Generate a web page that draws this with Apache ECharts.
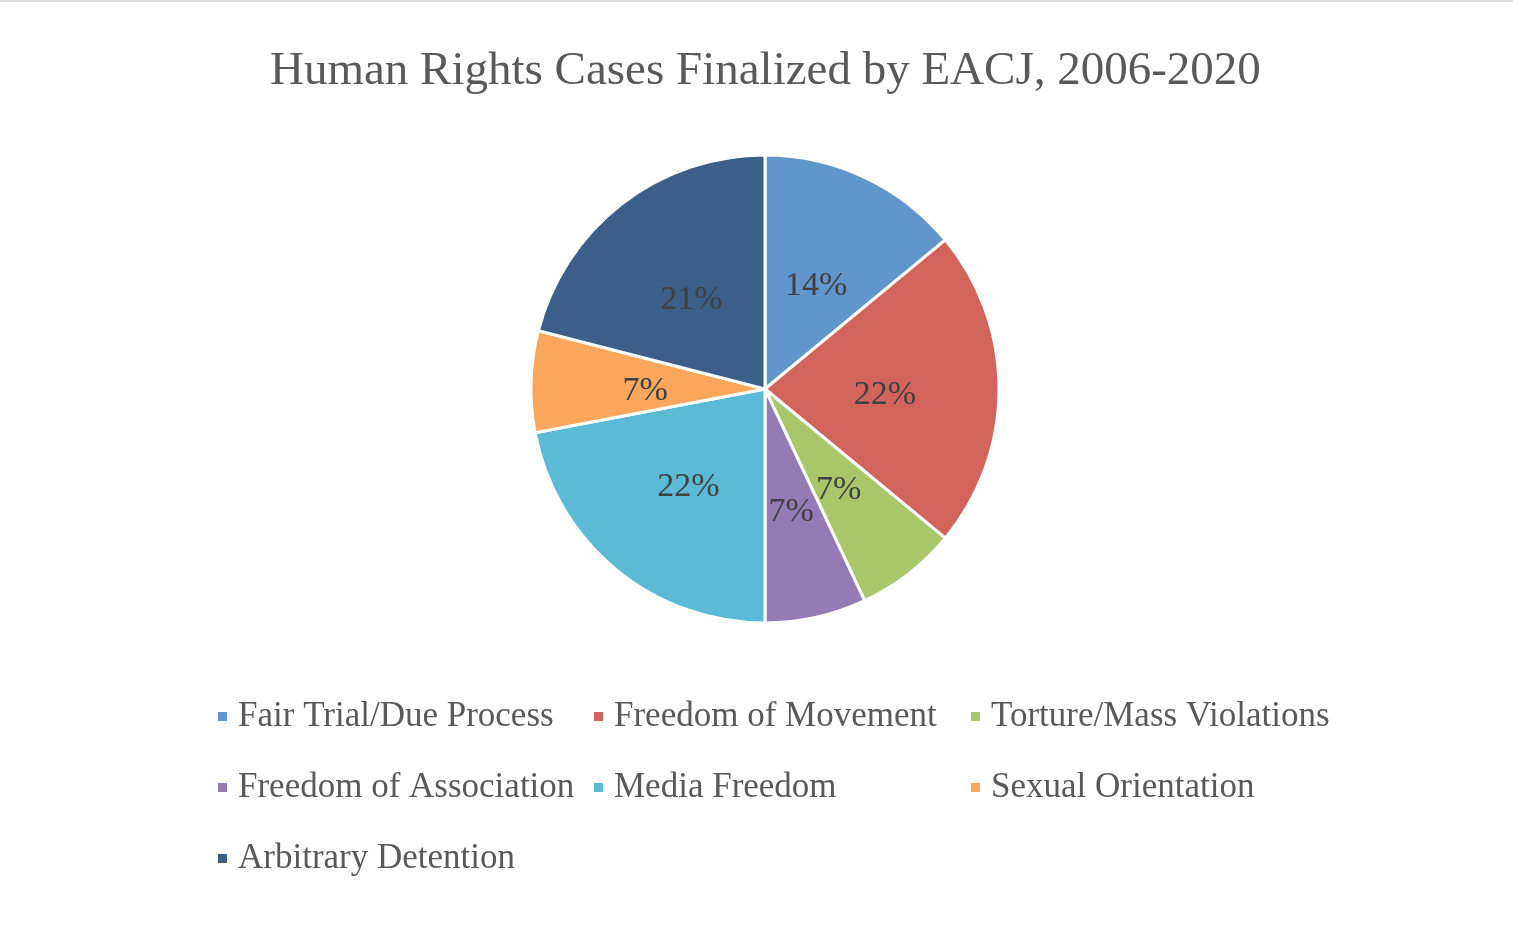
<!DOCTYPE html>
<html>
<head>
<meta charset="utf-8">
<script src="https://cdn.jsdelivr.net/npm/echarts@6/dist/echarts.min.js"></script>
<style>
html,body{margin:0;padding:0;background:#fff;}
#chart{width:1513px;height:932px;}
</style>
</head>
<body>
<div id="chart"></div>
<script>
const categories = ["Fair Trial/Due Process","Freedom of Movement","Torture/Mass Violations","Freedom of Association","Media Freedom","Sexual Orientation","Arbitrary Detention"];
const values = [14, 22, 7, 7, 22, 7, 21];
const colors = ["#6096CC","#D3645C","#A8C76A","#957BB5","#5BBAD5","#FAA75B","#3B5F88"];
const legendCol1 = ["Fair Trial/Due Process","Freedom of Association","Arbitrary Detention"];
const legendCol2 = ["Freedom of Movement","Media Freedom"];
const legendCol3 = ["Torture/Mass Violations","Sexual Orientation"];
const titleText = "Human Rights Cases Finalized by EACJ, 2006-2020";

const font = "'Liberation Serif', 'DejaVu Serif', serif";
function mkLegend(left, data){
  return {
    orient:'vertical', left:left, top:694, data:data,
    itemWidth:11, itemHeight:11, itemGap:36, icon:'rect',
    selectedMode:false,
    textStyle:{fontFamily:font, fontSize:35, lineHeight:34, color:'#595959', padding:[0,0,0,5]}
  };
}
const chart = echarts.init(document.getElementById('chart'), null, {renderer:'canvas'});
chart.setOption({
  backgroundColor:'#fff',
  animation:false,
  color:colors,
  title:{text:titleText, left:265, top:43,
    textStyle:{fontFamily:font, fontSize:47, fontWeight:'normal', color:'#595959'}},
  legend:[mkLegend(211, legendCol1), mkLegend(587, legendCol2), mkLegend(964, legendCol3)],
  graphic:[{type:'rect', shape:{x:0,y:0,width:1513,height:2}, style:{fill:'#DDDDDD'}}],
  series:[{
    type:'pie', center:[765,389], radius:234, startAngle:90, clockwise:true,
    silent:true,
    itemStyle:{borderColor:'#fff', borderWidth:3},
    label:{show:true, position:'inside', fontFamily:font, fontSize:34, color:'#404040',
      formatter:function(p){return Math.round(p.percent)+'%';}},
    labelLayout:{dy:6},
    labelLine:{show:false},
    emphasis:{disabled:true},
    data:categories.map((c,i)=>({name:c, value:values[i]}))
  }]
});
</script>
</body>
</html>
